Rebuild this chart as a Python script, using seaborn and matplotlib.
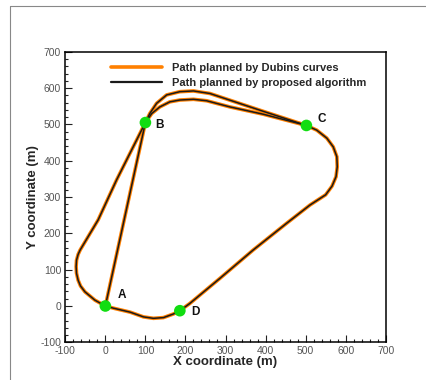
import matplotlib
matplotlib.use('Agg')
import matplotlib.pyplot as plt
from matplotlib.lines import Line2D
from matplotlib.ticker import MultipleLocator
import pandas as pd
import seaborn as sns

# waypoints (m); both planners give the same track
loop_x = [0, -26, -51, -62, -68, -72, -73, -72, -68, -63, -18, 28, 100, 111, 128, 153, 186, 220, 261, 394, 502,
          528, 553, 569, 578, 579, 576, 566, 550, 511, 453, 369, 286, 211, 186,
          170, 145, 120, 95, 62, 20, 0]
loop_y = [0, 16, 39, 55, 71, 90, 108, 126, 142, 154, 237, 347, 505, 530, 558, 581, 590, 592, 585, 536, 497,
          484, 462, 438, 411, 383, 356, 330, 306, 278, 228, 154, 76, 7, -13,
          -22, -32, -34, -30, -17, -6, 0]
inner_x = [0, 100, 116, 136, 161, 186, 220, 253, 311, 394, 502]
inner_y = [0, 505, 530, 548, 562, 567, 569, 565, 548, 528, 497]

wp_names = ['A', 'B', 'C', 'D']
wp_x = [0, 100, 502, 186]
wp_y = [0, 505, 497, -13]
label_offsets = [(12, 8), (10, -2), (11, 5), (11, -1)]

series = ['Path planned by Dubins curves', 'Path planned by proposed algorithm']
colors = ['#ff8000', '#1a1a1a']
widths = [2.6, 1.1]

sns.set_theme(style='white')
plt.rcParams['font.family'] = ['Liberation Sans', 'DejaVu Sans']
plt.rcParams['axes.unicode_minus'] = False

fig = plt.figure(figsize=(4.26, 3.80), dpi=100)
ax = fig.add_axes([0.1533, 0.0992, 0.7521, 0.7647])

for name, c, lw in zip(series, colors, widths):
    df_loop = pd.DataFrame({'x': loop_x, 'y': loop_y})
    df_inner = pd.DataFrame({'x': inner_x, 'y': inner_y})
    sns.lineplot(data=df_loop, x='x', y='y', sort=False, estimator=None, color=c,
                 lw=lw, ax=ax, solid_joinstyle='round')
    sns.lineplot(data=df_inner, x='x', y='y', sort=False, estimator=None, color=c,
                 lw=lw, ax=ax, solid_joinstyle='round')

sns.scatterplot(x=wp_x, y=wp_y, color='#11dd11', s=70, edgecolor='none', ax=ax, zorder=5)
for n, x, y, off in zip(wp_names, wp_x, wp_y, label_offsets):
    ax.annotate(n, (x, y), xytext=off, textcoords='offset points', fontsize=8.5,
                fontweight='bold', ha='center', va='center', color='#111')

ax.set_xlim(-100, 700)
ax.set_ylim(-100, 700)
ax.xaxis.set_major_locator(MultipleLocator(100))
ax.yaxis.set_major_locator(MultipleLocator(100))
ax.xaxis.set_minor_locator(MultipleLocator(20))
ax.yaxis.set_minor_locator(MultipleLocator(20))
ax.tick_params(which='both', direction='in', top=False, right=False, bottom=True, left=True,
               color='#222', width=0.8)
ax.tick_params(which='major', length=5, labelsize=7.5, labelcolor='#555', pad=3)
ax.tick_params(which='minor', length=2.5)
for s in ax.spines.values():
    s.set_color('black')
    s.set_linewidth(1.1)

ax.set_xlabel('X coordinate (m)', fontsize=9.5, fontweight='bold', labelpad=0)
ax.set_ylabel('Y coordinate (m)', fontsize=9.5, fontweight='bold', labelpad=1)

handles = [Line2D([], [], color=c, lw=w) for c, w in zip(colors, [2.6, 1.6])]
ax.legend(handles, series, loc='upper left', bbox_to_anchor=(0.11, 0.995), frameon=False,
          prop={'size': 8, 'weight': 'bold'}, handlelength=4.6, handletextpad=0.9,
          labelspacing=0.4)

# outer gray frame of the original picture
fig.add_artist(Line2D([10 / 426, 1], [1 - 6 / 380] * 2, color='#888', lw=0.8))
fig.add_artist(Line2D([10 / 426] * 2, [0, 1 - 6 / 380], color='#888', lw=0.8))

fig.savefig('out.png', dpi=100)
